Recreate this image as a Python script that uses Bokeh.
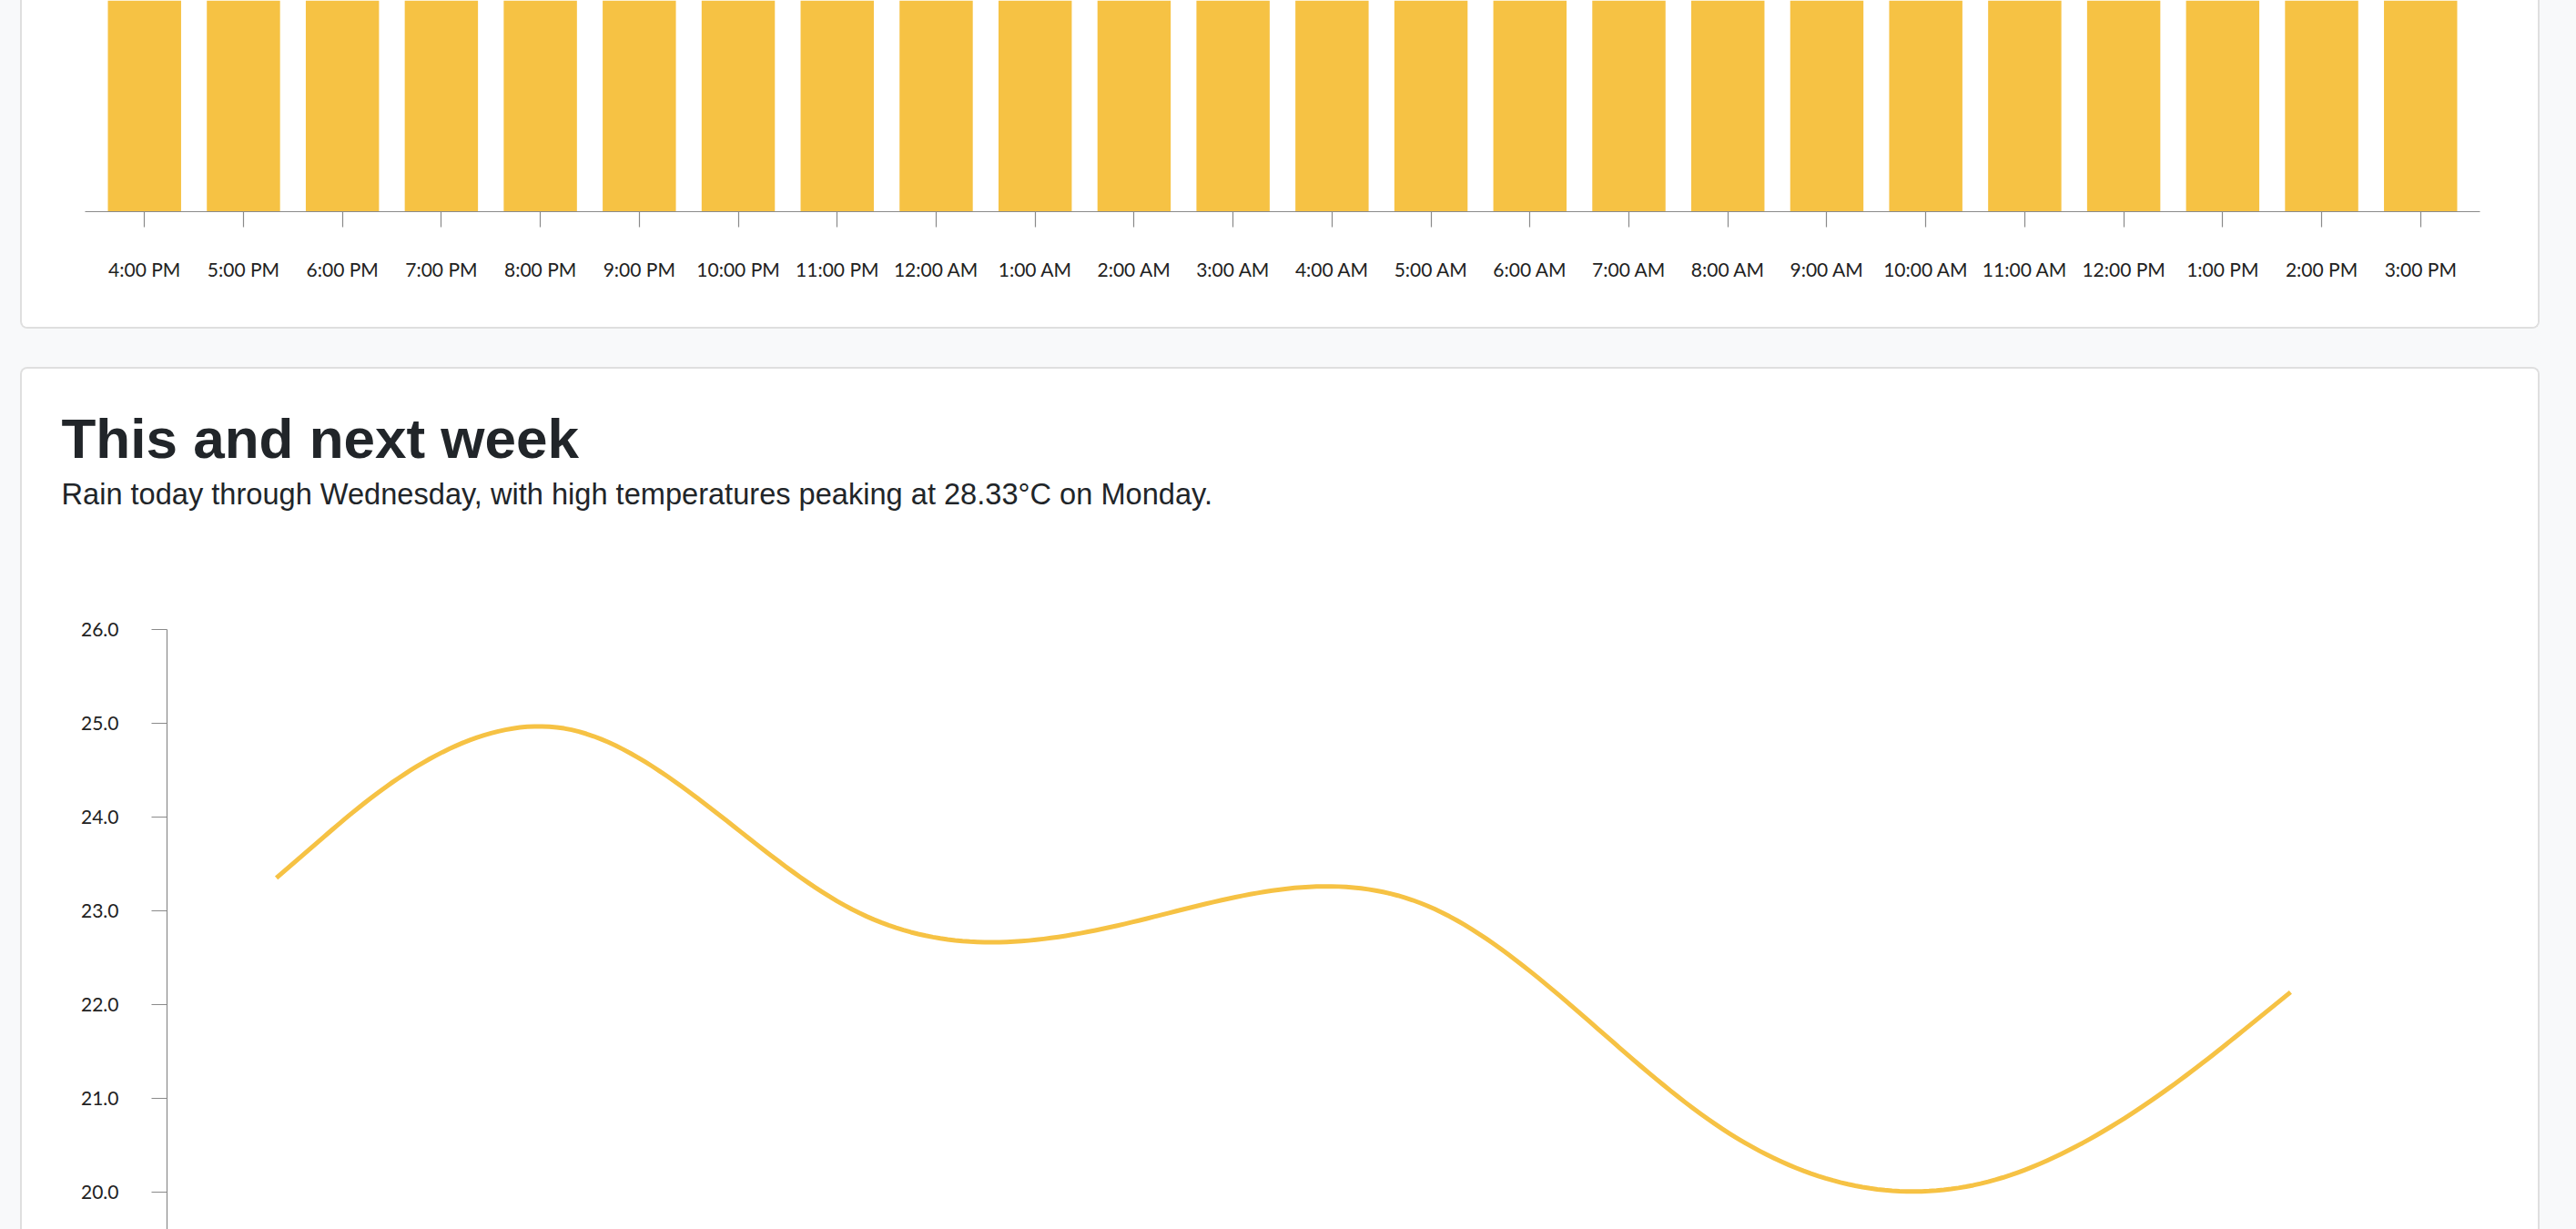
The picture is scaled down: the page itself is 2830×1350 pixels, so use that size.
import numpy as np
from bokeh.plotting import figure
from bokeh.models import (Range1d, FactorRange, FixedTicker, PrintfTickFormatter, Label)
from bokeh.layouts import column
from bokeh.embed import file_html
from bokeh.resources import INLINE

# ---------------- data ----------------
hours = ["4:00 PM", "5:00 PM", "6:00 PM", "7:00 PM", "8:00 PM", "9:00 PM",
         "10:00 PM", "11:00 PM", "12:00 AM", "1:00 AM", "2:00 AM", "3:00 AM",
         "4:00 AM", "5:00 AM", "6:00 AM", "7:00 AM", "8:00 AM", "9:00 AM",
         "10:00 AM", "11:00 AM", "12:00 PM", "1:00 PM", "2:00 PM", "3:00 PM"]
# bars are cut off by the top of the view; values estimated
hourly_temps = [24.8, 24.5, 24.1, 23.6, 23.2, 22.9, 22.7, 22.5, 22.3, 22.2, 22.1, 22.0,
                21.9, 21.9, 22.0, 22.4, 23.0, 23.6, 24.2, 24.7, 25.0, 25.1, 25.0, 24.8]

week_day = [0, 1, 2, 3, 4, 5, 6, 7]
week_temps = [23.35, 26.0, 22.32, 22.81, 23.82, 20.22, 19.64, 22.13]
week_ticks = [20, 21, 22, 23, 24, 25, 26]

title_text = "This and next week"
subtitle_text = "Rain today through Wednesday, with high temperatures peaking at 28.33°C on Monday."

YELLOW = "#f6c244"
AXIS = "#8a8a8a"
LABEL = "#222222"
TEXT = "#212529"
CARD_BORDER = "#dfdfdf"
PAGE_BG = "#f8f9fa"


def basis_curve(xs, ys, samples=40):
    """d3.curveBasis rendering of the data points (line drawn through library scales)."""
    P = list(zip(xs, ys))
    Q = [P[0]] + P + [P[-1]]
    out_x, out_y = [P[0][0]], [P[0][1]]
    for k in range(len(Q) - 3):
        q0, q1, q2, q3 = (np.array(Q[k + i], dtype=float) for i in range(4))
        for t in np.linspace(0, 1, samples):
            b0 = (1 - t) ** 3 / 6
            b1 = (3 * t ** 3 - 6 * t ** 2 + 4) / 6
            b2 = (-3 * t ** 3 + 3 * t ** 2 + 3 * t + 1) / 6
            b3 = t ** 3 / 6
            pt = b0 * q0 + b1 * q1 + b2 * q2 + b3 * q3
            out_x.append(pt[0])
            out_y.append(pt[1])
    out_x.append(P[-1][0])
    out_y.append(P[-1][1])
    return out_x, out_y


def style_axis(a, standoff):
    a.axis_line_color = AXIS
    a.axis_line_width = 1.2
    a.major_tick_line_color = AXIS
    a.major_tick_line_width = 1.2
    a.major_tick_out = 17
    a.major_tick_in = 0
    a.minor_tick_line_color = None
    a.major_label_standoff = standoff
    a.major_label_text_font = "Lato"
    a.major_label_text_font_size = "21px"
    a.major_label_text_color = LABEL


def plain(fig):
    fig.frame_align = False
    fig.outline_line_color = None
    fig.grid.visible = False
    fig.background_fill_color = "white"
    fig.border_fill_color = "white"


# ---------------- top card: hourly bars ----------------
top = figure(
    x_range=FactorRange(factors=hours, range_padding=0.1, range_padding_units="absolute"),
    y_range=Range1d(0, 12),
    width=2768, height=361,
    output_backend="svg", toolbar_location=None,
    y_axis_location=None,
    min_border_left=69, min_border_right=68, min_border_top=0, min_border_bottom=129,
    margin=(0, 0, 0, 22),
    styles={"border-left": f"2px solid {CARD_BORDER}",
            "border-right": f"2px solid {CARD_BORDER}",
            "border-bottom": f"2px solid {CARD_BORDER}",
            "border-bottom-left-radius": "8px",
            "border-bottom-right-radius": "8px",
            "background-color": "white",
            "overflow": "hidden"},
)
plain(top)
top.vbar(x=hours, top=hourly_temps, width=0.74, fill_color=YELLOW, line_color=None)
style_axis(top.xaxis[0], 33)

# ---------------- bottom card header (title + subtitle) ----------------
head = figure(
    x_range=Range1d(0, 1), y_range=Range1d(0, 1),
    width=2768, height=200,
    output_backend="svg", toolbar_location=None,
    x_axis_location=None, y_axis_location=None,
    min_border_left=0, min_border_right=0, min_border_top=0, min_border_bottom=0,
    margin=(42, 0, 0, 22),
    styles={"border-left": f"2px solid {CARD_BORDER}",
            "border-right": f"2px solid {CARD_BORDER}",
            "border-top": f"2px solid {CARD_BORDER}",
            "border-top-left-radius": "8px",
            "border-top-right-radius": "8px",
            "background-color": "white",
            "overflow": "hidden"},
)
plain(head)
head.add_layout(Label(x=43, y=124, x_units="screen", y_units="screen",
                      text=title_text, text_font="Liberation Sans", text_font_style="bold",
                      text_font_size="62px", text_color=TEXT,
                      text_baseline="alphabetic", text_align="left"))
head.add_layout(Label(x=43, y=63, x_units="screen", y_units="screen",
                      text=subtitle_text, text_font="Liberation Sans",
                      text_font_size="32.6px", text_color=TEXT,
                      text_baseline="alphabetic", text_align="left"))

# ---------------- bottom card chart: weekly line ----------------
bot = figure(
    x_range=Range1d(-0.38, 7.38),
    y_range=Range1d(19.598, 26.0),
    width=2768, height=747,
    output_backend="svg", toolbar_location=None,
    x_axis_location=None,
    min_border_left=159, min_border_right=156, min_border_top=88, min_border_bottom=0,
    margin=(0, 0, 0, 22),
    styles={"border-left": f"2px solid {CARD_BORDER}",
            "border-right": f"2px solid {CARD_BORDER}",
            "background-color": "white",
            "overflow": "hidden"},
)
plain(bot)
cx, cy = basis_curve(week_day, week_temps)
bot.line(x=cx, y=cy, line_color=YELLOW, line_width=5, line_join="round", line_cap="butt")

yax = bot.yaxis[0]
yax.ticker = FixedTicker(ticks=week_ticks)
yax.formatter = PrintfTickFormatter(format="%.1f")
style_axis(yax, 36)

page = column(top, head, bot, width=2830, height=1350,
              styles={"background-color": PAGE_BG})

open("out.html", "w").write(file_html(page, INLINE))
